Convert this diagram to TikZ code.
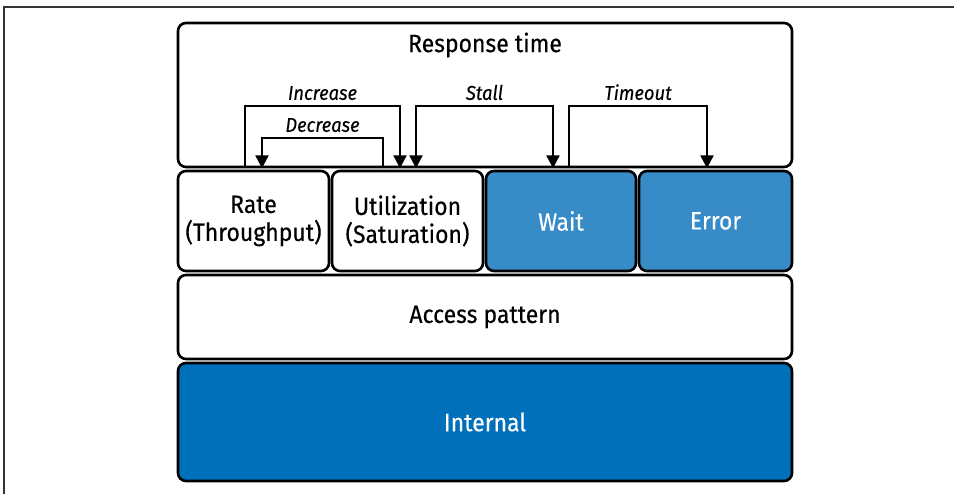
\documentclass[tikz,border=0pt]{standalone}
\usepackage{fontspec}
\setmainfont{Fira Sans}[FakeStretch=0.92, FakeBold=0.3]
\usetikzlibrary{arrows.meta}
\definecolor{lightblue}{RGB}{55,140,200}
\definecolor{darkblue}{RGB}{0,112,186}
\tikzstyle{frame}=[draw=black!80, line width=1.2pt]
\tikzstyle{block}=[draw=black, line width=2.6pt, rounded corners=8pt, fill=white, inner sep=0pt, align=center, font=\fontsize{25}{28}\selectfont]
\tikzstyle{blue}=[fill=lightblue, text=white]
\tikzstyle{flow}=[draw=black, line width=2.4pt, -{Triangle[length=13pt,width=13pt]}]
\tikzstyle{both}=[{Triangle[length=13pt,width=13pt]}-{Triangle[length=13pt,width=13pt]}]
\tikzstyle{tag}=[font=\fontsize{20}{22}\selectfont\itshape, inner sep=5pt]

\begin{document}
\begin{tikzpicture}[x=1pt, y=1pt]
	\useasboundingbox (0,0) rectangle (954,494);
	\draw [style=frame] (4,0) -- (4,487) -- (954,487);

	\node [style=block, minimum width=614pt, minimum height=144pt] (resp) at (485, 399) {};
	\node [font=\fontsize{25}{28}\selectfont] (resptext) at (485, 449) {Response time};

	\node [style=block, minimum width=151pt, minimum height=100pt] (rate) at (253.5, 273) {Rate\\(Throughput)};
	\node [style=block, minimum width=151pt, minimum height=100pt] (util) at (407.5, 273) {Utilization\\(Saturation)};
	\node [style=block, style=blue, minimum width=150pt, minimum height=100pt] (wait) at (561, 273) {Wait};
	\node [style=block, style=blue, minimum width=153pt, minimum height=100pt] (err) at (715.5, 273) {Error};

	\node [style=block, minimum width=614pt, minimum height=84pt] (access) at (485, 177) {Access pattern};
	\node [style=block, fill=darkblue, text=white, minimum width=614pt, minimum height=118pt] (internal) at (485, 72) {Internal};

	\draw [style=flow] ([xshift=-8.5pt]rate.north |- resp.south) -- ++(0,62)
		-| node [style=tag, pos=0.25, above] {Increase} ([xshift=-7.5pt]util.north |- resp.south);
	\draw [style=flow] ([xshift=-24.5pt]util.north |- resp.south) -- ++(0,30)
		-| node [style=tag, pos=0.25, above] {Decrease} ([xshift=8.5pt]rate.north |- resp.south);
	\draw [style=flow, style=both] ([xshift=8.5pt]util.north |- resp.south) -- ++(0,62)
		-| node [style=tag, pos=0.25, above] {Stall} ([xshift=-8pt]wait.north |- resp.south);
	\draw [style=flow] ([xshift=8pt]wait.north |- resp.south) -- ++(0,62)
		-| node [style=tag, pos=0.25, above] {Timeout} ([xshift=-8.5pt]err.north |- resp.south);
\end{tikzpicture}
\end{document}
